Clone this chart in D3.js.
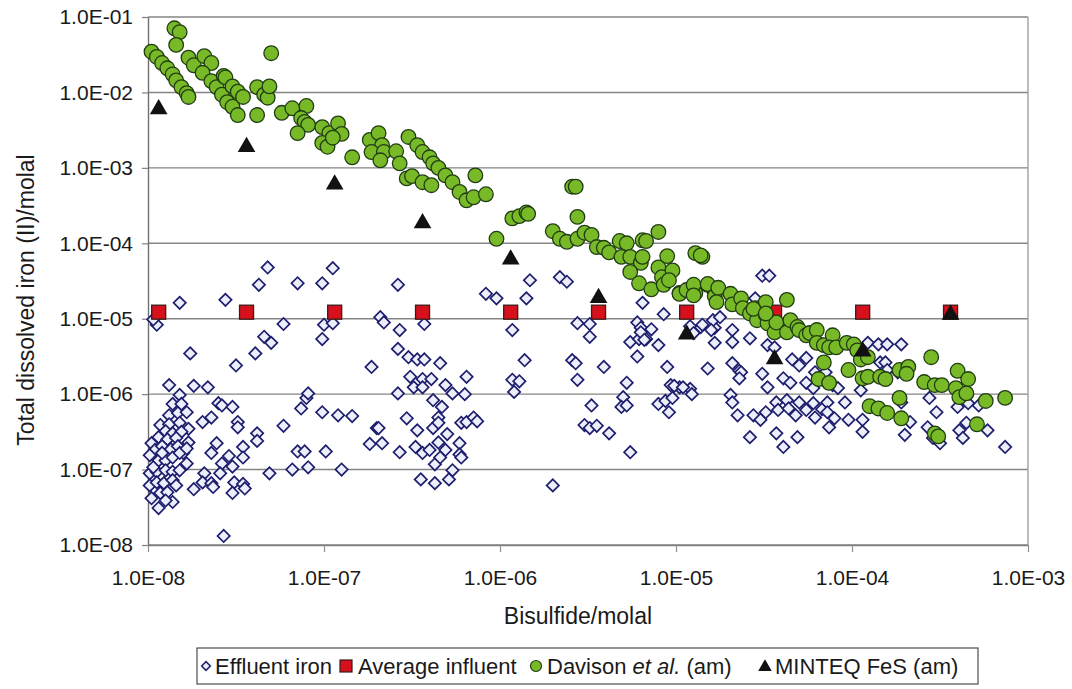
<!DOCTYPE html>
<html>
<head>
<meta charset="utf-8">
<script src="https://cdn.jsdelivr.net/npm/d3@7"></script>
<style>
  body { margin: 0; background: #fff; }
  svg text { font-family: "Liberation Sans", Arial, Helvetica, sans-serif; fill: #1a1a1a; }
</style>
</head>
<body>
<div id="vis"></div>
<script>
// Frame
const FRAME_WIDTH = 1072;
const FRAME_HEIGHT = 689;
const MARGINS = { left: 148, right: 44, top: 17, bottom: 144 };
const VIS_WIDTH = FRAME_WIDTH - MARGINS.left - MARGINS.right;
const VIS_HEIGHT = FRAME_HEIGHT - MARGINS.top - MARGINS.bottom;

// Axis ticks
const xTickValues = [1e-8, 1e-7, 1e-6, 1e-5, 1e-4, 1e-3];
const xTickLabels = ["1.0E-08", "1.0E-07", "1.0E-06", "1.0E-05", "1.0E-04", "1.0E-03"];
const yTickValues = [1e-8, 1e-7, 1e-6, 1e-5, 1e-4, 1e-3, 1e-2, 1e-1];
const yTickLabels = ["1.0E-08", "1.0E-07", "1.0E-06", "1.0E-05", "1.0E-04", "1.0E-03", "1.0E-02", "1.0E-01"];

// Average influent and MINTEQ FeS (am): bisulfide (molal) and iron (molal)
const bisulfideSteps = [1.15e-8, 3.63e-8, 1.15e-7, 3.63e-7, 1.15e-6, 3.63e-6, 1.15e-5, 3.63e-5, 1.15e-4, 3.63e-4];
const influentIron = [1.22e-5, 1.22e-5, 1.22e-5, 1.22e-5, 1.22e-5, 1.22e-5, 1.22e-5, 1.22e-5, 1.22e-5, 1.22e-5];
const minteqIron = [6.2e-3, 1.95e-3, 6.2e-4, 1.9e-4, 6.3e-5, 1.95e-5, 6.4e-6, 3.0e-6, 3.8e-6, 1.17e-5];

// Effluent iron, pairs of [log10 bisulfide, log10 iron]
const effluentLog = [
  [-7.82,-4.79],[-7.56,-4.75],[-7.37,-4.55],[-7.15,-4.53],[-7.01,-4.53],[-7.95,-5.08],[-7.97,-5.01],[-7.23,-5.07],
  [-7.76,-5.46],[-7.50,-5.62],[-7.39,-5.46],[-7.34,-5.24],[-7.30,-5.32],[-7.00,-5.08],[-6.95,-5.06],[-7.01,-5.27],
  [-6.73,-5.64],[-7.88,-5.88],[-7.82,-6.01],[-7.74,-5.89],[-7.66,-5.91],[-7.60,-6.12],[-7.58,-6.15],[-7.52,-6.17],
  [-7.64,-6.31],[-7.69,-6.37],[-7.49,-6.37],[-7.49,-6.44],[-7.23,-6.42],[-7.13,-6.19],[-7.10,-6.05],[-7.09,-5.99],
  [-7.01,-6.24],[-6.92,-6.28],[-6.84,-6.29],[-7.38,-6.52],[-7.38,-6.62],[-7.61,-6.65],[-7.64,-6.78],[-7.58,-6.92],
  [-7.54,-6.82],[-7.46,-6.70],[-7.46,-6.84],[-7.52,-6.96],[-7.15,-6.76],[-7.11,-6.76],[-6.99,-6.76],[-7.18,-7.00],
  [-7.09,-6.97],[-6.90,-7.00],[-7.31,-7.05],[-7.68,-7.05],[-7.69,-7.17],[-7.64,-7.18],[-7.63,-7.23],[-7.59,-7.05],
  [-7.51,-7.17],[-7.46,-7.19],[-7.52,-7.31],[-7.45,-7.25],[-7.74,-7.26],[-7.57,-7.88],[-6.74,-6.66],[-6.70,-6.45],
  [-7.86,-6.13],[-7.81,-6.13],[-7.88,-6.28],[-7.83,-6.25],[-7.78,-6.24],[-7.93,-6.41],[-7.88,-6.40],[-7.82,-6.38],
  [-7.77,-6.46],[-7.90,-6.49],[-7.86,-6.52],[-7.81,-6.50],[-7.98,-6.65],[-7.94,-6.57],[-7.89,-6.60],[-7.84,-6.58],
  [-7.77,-6.64],[-7.96,-6.74],[-7.92,-6.69],[-7.87,-6.73],[-7.83,-6.69],[-7.80,-6.78],[-7.99,-6.81],[-7.94,-6.88],
  [-7.90,-6.88],[-7.86,-6.84],[-7.78,-6.92],[-7.99,-7.05],[-7.95,-7.03],[-7.90,-7.01],[-7.86,-7.03],[-7.82,-7.01],
  [-7.99,-7.21],[-7.95,-7.17],[-7.91,-7.18],[-7.86,-7.14],[-7.84,-7.21],[-7.98,-7.38],[-7.93,-7.31],[-7.89,-7.30],
  [-7.86,-7.43],[-7.94,-7.51],[-7.90,-7.41],[-7.97,-6.97],[-7.92,-6.78],[-7.82,-6.78],[-7.78,-6.72],
  [-7.32,-4.32],[-6.95,-4.33],
  [-6.58,-4.55],[-6.68,-4.98],[-6.66,-5.05],[-6.57,-5.15],[-6.43,-5.07],[-6.58,-5.40],[-6.52,-5.51],[-6.47,-5.54],
  [-6.43,-5.54],[-6.34,-5.59],[-6.51,-5.77],[-6.44,-5.80],[-6.39,-5.80],[-6.49,-5.91],[-6.44,-5.91],[-6.31,-5.88],
  [-6.27,-5.99],[-6.20,-6.00],[-6.19,-5.77],[-6.58,-5.99],[-6.38,-6.08],[-6.33,-6.17],[-6.35,-6.31],[-6.53,-6.32],
  [-6.47,-6.48],[-6.38,-6.45],[-6.35,-6.38],[-6.30,-6.53],[-6.22,-6.38],[-6.19,-6.37],[-6.15,-6.31],[-6.13,-6.36],
  [-6.69,-6.45],[-6.67,-6.65],[-6.57,-6.77],[-6.48,-6.70],[-6.44,-6.78],[-6.40,-6.74],[-6.37,-6.93],[-6.35,-6.64],
  [-6.31,-6.74],[-6.34,-6.84],[-6.23,-6.65],[-6.23,-6.80],[-6.22,-6.84],[-6.27,-7.01],[-6.45,-7.13],[-6.37,-7.18],
  [-6.29,-7.13],[-5.70,-7.21],[-5.93,-5.15],[-5.86,-5.55],[-5.83,-4.49],[-5.85,-4.73],[-6.08,-4.67],[-6.02,-4.73],
  [-5.93,-5.81],[-5.89,-5.83],[-5.92,-5.97],[-5.66,-4.45],[-5.62,-4.51],[-5.56,-5.06],[-5.49,-5.07],[-5.49,-5.24],
  [-5.59,-5.55],[-5.57,-5.59],[-5.41,-5.64],[-5.56,-5.81],[-5.48,-6.15],[-5.28,-5.85],[-5.30,-6.04],[-5.31,-6.17],
  [-5.28,-6.15],[-5.52,-6.41],[-5.49,-6.45],[-5.45,-6.42],[-5.38,-6.52],[-5.26,-6.77],[-5.19,-4.79],[-5.07,-4.94],
  [-5.22,-5.05],[-5.20,-5.12],[-5.14,-5.14],[-5.26,-5.31],[-5.21,-5.27],[-5.17,-5.27],[-5.10,-5.35],[-5.22,-5.50],
  [-5.05,-5.64],[-5.03,-5.88],[-4.98,-5.91],[-4.92,-5.93],[-4.91,-6.00],[-5.10,-6.13],[-5.06,-6.09],[-5.02,-6.05],
  [-5.04,-6.24],[-4.86,-5.11],[-4.78,-5.12],[-4.78,-5.32],[-4.82,-5.66],[-4.79,-5.02],
  [-4.51,-4.43],[-4.47,-4.43],[-5.20,-5.18],[-5.18,-5.28],[-4.92,-5.10],[-4.90,-5.19],[-4.80,-5.15],[-4.75,-4.98],
  [-4.68,-5.15],[-4.58,-5.26],[-4.48,-5.35],[-4.68,-5.59],[-4.64,-5.69],[-4.51,-5.73],[-4.48,-5.91],[-5.01,-5.89],
  [-4.96,-5.91],[-4.69,-6.01],[-4.85,-5.08],[-4.55,-4.73],
  [-4.68,-5.31],[-4.44,-5.38],[-4.63,-5.71],[-4.64,-5.79],[-4.39,-5.79],[-4.35,-5.85],[-4.34,-5.54],[-4.30,-5.62],
  [-4.26,-5.52],[-4.26,-5.85],[-4.21,-5.71],[-4.22,-5.92],[-4.15,-5.71],[-4.11,-5.88],[-4.08,-5.92],[-3.95,-5.95],
  [-3.91,-5.32],[-3.85,-5.34],[-3.80,-5.34],[-3.72,-5.34],[-3.84,-5.58],[-3.81,-5.58],[-3.80,-5.68],[-3.74,-5.71],
  [-4.68,-6.11],[-4.65,-6.28],[-4.56,-6.28],[-4.52,-6.34],[-4.49,-6.24],[-4.43,-6.11],[-4.42,-6.21],[-4.37,-6.08],
  [-4.36,-6.19],[-4.32,-6.28],[-4.30,-6.11],[-4.26,-6.21],[-4.22,-6.12],[-4.21,-6.31],[-4.17,-6.20],[-4.14,-6.11],
  [-4.14,-6.24],[-4.10,-6.32],[-4.13,-6.44],[-4.04,-6.11],[-4.02,-6.34],[-3.94,-6.34],[-3.94,-6.50],[-4.58,-6.57],
  [-4.43,-6.52],[-4.39,-6.70],[-4.31,-6.57],[-3.72,-6.11],[-3.67,-6.37],[-3.70,-6.54],[-3.57,-6.44],[-3.56,-6.05],
  [-3.52,-6.24],[-3.54,-6.58],[-3.50,-6.65],[-3.40,-6.17],[-3.34,-6.12],[-3.28,-6.15],[-3.39,-6.48],[-3.35,-6.38],
  [-3.37,-6.58],[-3.23,-6.48],[-3.13,-6.70]
];

// Davison et al. (am), pairs of [log10 bisulfide, log10 iron]
const davisonLog = [
  [-7.98,-1.46],[-7.95,-1.53],[-7.92,-1.61],[-7.89,-1.68],[-7.86,-1.76],[-7.84,-1.84],[-7.81,-1.93],[-7.78,-2.01],
  [-7.77,-2.06],[-7.85,-1.15],[-7.82,-1.20],[-7.84,-1.37],[-7.77,-1.54],[-7.74,-1.64],[-7.68,-1.52],[-7.64,-1.61],
  [-7.69,-1.74],[-7.64,-1.85],[-7.61,-1.93],[-7.58,-2.03],[-7.55,-2.13],[-7.52,-2.19],[-7.49,-2.30],[-7.57,-1.78],
  [-7.56,-1.80],[-7.52,-1.92],[-7.49,-1.99],[-7.46,-2.06],[-7.38,-1.93],[-7.38,-2.30],[-7.34,-2.03],[-7.32,-2.07],
  [-7.31,-1.92],[-7.30,-1.48],[-7.24,-2.27],[-7.18,-2.21],[-7.10,-2.18],[-7.13,-2.34],[-7.11,-2.39],[-7.09,-2.43],
  [-7.15,-2.54],[-7.01,-2.46],[-6.97,-2.54],[-6.92,-2.41],[-6.90,-2.55],[-7.01,-2.67],[-6.98,-2.72],[-6.95,-2.60],
  [-6.84,-2.86],[-6.74,-2.63],[-6.69,-2.54],[-6.67,-2.70],[-6.73,-2.79],[-6.66,-2.79],[-6.68,-2.90],[-6.59,-2.78],
  [-6.57,-2.94],[-6.53,-3.14],[-6.50,-3.11],[-6.52,-2.59],[-6.47,-2.70],[-6.44,-2.79],[-6.40,-2.86],[-6.38,-2.94],
  [-6.35,-3.00],[-6.31,-3.10],[-6.27,-3.19],[-6.23,-3.32],[-6.19,-3.43],[-6.15,-3.39],[-6.44,-3.19],[-6.39,-3.23],
  [-6.14,-3.10],[-6.08,-3.35],[-6.02,-3.94],[-5.93,-3.67],[-5.89,-3.64],[-5.85,-3.59],[-5.84,-3.61],[-5.59,-3.25],
  [-5.57,-3.25],[-5.56,-3.65],[-5.70,-3.84],[-5.66,-3.94],[-5.62,-3.98],[-5.56,-3.94],[-5.52,-3.86],[-5.48,-3.89],
  [-5.45,-4.05],[-5.41,-4.06],[-5.38,-4.12],[-5.32,-3.97],[-5.28,-4.00],[-5.19,-3.96],[-5.17,-3.97],[-5.10,-3.85],
  [-5.31,-4.18],[-5.26,-4.18],[-5.20,-4.26],[-5.19,-4.18],[-5.26,-4.38],[-5.21,-4.53],[-5.14,-4.61],[-5.10,-4.32],
  [-5.05,-4.17],[-5.08,-4.45],[-5.07,-4.55],[-5.02,-4.36],[-5.04,-4.49],[-4.98,-4.66],[-4.93,-4.62],[-4.89,-4.66],
  [-4.89,-4.13],[-4.85,-4.18],[-4.82,-4.55],[-4.78,-4.66],[-4.98,-4.67],[-4.94,-4.62],[-4.90,-4.55],[-4.90,-4.69],
  [-4.82,-4.54],[-4.78,-4.70],[-4.76,-4.59],[-4.77,-4.78],[-4.69,-4.67],[-4.68,-4.81],[-4.63,-4.73],[-4.62,-4.86],
  [-4.58,-4.93],[-4.55,-4.86],[-4.54,-5.02],[-4.49,-4.78],[-4.49,-4.95],[-4.48,-5.06],[-4.44,-5.18],[-4.43,-5.05],
  [-4.86,-4.16],[-4.56,-4.87],[-4.49,-4.93],[-4.37,-4.75],[-4.37,-5.18],[-4.35,-5.02],[-4.31,-5.11],[-4.30,-5.15],
  [-4.26,-5.22],[-4.24,-5.19],[-4.20,-5.15],[-4.20,-5.32],[-4.16,-5.35],[-4.16,-5.58],[-4.11,-5.22],[-4.13,-5.38],
  [-4.09,-5.38],[-4.03,-5.32],[-3.99,-5.34],[-3.97,-5.42],[-3.95,-5.54],[-3.91,-5.51],[-4.02,-5.68],[-3.94,-5.79],
  [-3.91,-5.77],[-4.19,-5.80],[-4.13,-5.85],[-3.84,-5.77],[-3.81,-5.80],[-3.90,-6.16],[-3.85,-6.19],[-3.80,-6.25],
  [-3.73,-6.05],[-3.72,-6.32],[-3.73,-5.68],[-3.68,-5.64],[-3.69,-5.73],[-3.55,-5.51],[-3.59,-5.84],[-3.53,-5.88],
  [-3.49,-5.88],[-3.53,-6.52],[-3.51,-6.56],[-3.41,-5.92],[-3.40,-5.69],[-3.34,-5.80],[-3.39,-6.04],[-3.35,-5.99],
  [-3.29,-6.40],[-3.24,-6.09],[-3.13,-6.05]
];

// Legend entries
const legendNames = ["Effluent iron", "Average influent", "Davison", "MINTEQ FeS (am)"];

const effluent = effluentLog.map(d => ({ x: Math.pow(10, d[0]), y: Math.pow(10, d[1]) }));
const davison = davisonLog.map(d => ({ x: Math.pow(10, d[0]), y: Math.pow(10, d[1]) }));
const influent = bisulfideSteps.map((x, i) => ({ x: x, y: influentIron[i] }));
const minteq = bisulfideSteps.map((x, i) => ({ x: x, y: minteqIron[i] }));

const FRAME = d3.select("#vis")
    .append("svg")
    .attr("width", FRAME_WIDTH)
    .attr("height", FRAME_HEIGHT);

const X_SCALE = d3.scaleLog().domain([1e-8, 1e-3]).range([0, VIS_WIDTH]);
const Y_SCALE = d3.scaleLog().domain([1e-8, 1e-1]).range([VIS_HEIGHT, 0]);

const PLOT = FRAME.append("g")
    .attr("transform", "translate(" + MARGINS.left + "," + MARGINS.top + ")");

// gridlines
PLOT.selectAll(".grid")
    .data(yTickValues)
    .enter()
    .append("line")
    .attr("x1", 0)
    .attr("x2", VIS_WIDTH)
    .attr("y1", d => Y_SCALE(d))
    .attr("y2", d => Y_SCALE(d))
    .attr("stroke", "#858585")
    .attr("stroke-width", 1.4);

// right border of plot area
PLOT.append("line")
    .attr("x1", VIS_WIDTH).attr("x2", VIS_WIDTH)
    .attr("y1", 0).attr("y2", VIS_HEIGHT)
    .attr("stroke", "#a0a0a0")
    .attr("stroke-width", 1.4);

// X axis
const xAxis = PLOT.append("g")
    .attr("transform", "translate(0," + VIS_HEIGHT + ")")
    .call(d3.axisBottom(X_SCALE)
        .tickValues(xTickValues)
        .tickFormat((d, i) => xTickLabels[i])
        .tickSizeInner(7).tickSizeOuter(0)
        .tickPadding(18));
xAxis.select(".domain").attr("stroke", "#808080").attr("stroke-width", 1.4);
xAxis.selectAll(".tick line").attr("stroke", "#909090").attr("stroke-width", 1.2);
xAxis.selectAll("text").attr("font-size", "21px").attr("fill", "#1a1a1a");

// Y axis
const yAxis = PLOT.append("g")
    .call(d3.axisLeft(Y_SCALE)
        .tickValues(yTickValues)
        .tickFormat((d, i) => yTickLabels[i])
        .tickSizeInner(6).tickSizeOuter(0)
        .tickPadding(9));
yAxis.select(".domain").attr("stroke", "#707070").attr("stroke-width", 1.4);
yAxis.selectAll(".tick line").attr("stroke", "#808080").attr("stroke-width", 1.2);
yAxis.selectAll("text").attr("font-size", "21px").attr("fill", "#1a1a1a");

// axis titles
FRAME.append("text")
    .attr("x", MARGINS.left + VIS_WIDTH / 2 - 10)
    .attr("y", 624)
    .attr("text-anchor", "middle")
    .attr("font-size", "23px")
    .text("Bisulfide/molal");

FRAME.append("text")
    .attr("transform", "translate(34," + (MARGINS.top + 283) + ") rotate(-90)")
    .attr("text-anchor", "middle")
    .attr("font-size", "23px")
    .text("Total dissolved iron (II)/molal");

// Effluent iron (diamonds)
const diamond = d3.symbol().type(d3.symbolSquare).size(76);
PLOT.selectAll(".eff")
    .data(effluent)
    .enter()
    .append("path")
    .attr("d", diamond)
    .attr("transform", d => "translate(" + X_SCALE(d.x) + "," + Y_SCALE(d.y) + ") rotate(45)")
    .attr("fill", "#eceefa")
    .attr("stroke", "#1e1e6e")
    .attr("stroke-width", 1.7);

// Average influent (squares)
PLOT.selectAll(".inf")
    .data(influent)
    .enter()
    .append("rect")
    .attr("x", d => X_SCALE(d.x) - 7)
    .attr("y", d => Y_SCALE(d.y) - 7)
    .attr("width", 14)
    .attr("height", 14)
    .attr("fill", "#d7101e")
    .attr("stroke", "#3a1a18")
    .attr("stroke-width", 1.3);

// Davison et al. (circles)
PLOT.selectAll(".dav")
    .data(davison)
    .enter()
    .append("circle")
    .attr("cx", d => X_SCALE(d.x))
    .attr("cy", d => Y_SCALE(d.y))
    .attr("r", 7.3)
    .attr("fill", "#78b928")
    .attr("stroke", "#203d12")
    .attr("stroke-width", 1.3);

// MINTEQ FeS (triangles)
const triangle = d3.symbol().type(d3.symbolTriangle).size(135);
PLOT.selectAll(".min")
    .data(minteq)
    .enter()
    .append("path")
    .attr("d", triangle)
    .attr("transform", d => "translate(" + X_SCALE(d.x) + "," + (Y_SCALE(d.y) + 1) + ")")
    .attr("fill", "#111");

// Legend
const LEG = FRAME.append("g");
LEG.append("rect")
    .attr("x", 197).attr("y", 648)
    .attr("width", 781).attr("height", 36)
    .attr("fill", "#fff")
    .attr("stroke", "#4d4d4d")
    .attr("stroke-width", 1.2);

const legY = 666;
LEG.append("path")
    .attr("d", d3.symbol().type(d3.symbolSquare).size(38))
    .attr("transform", "translate(206," + legY + ") rotate(45)")
    .attr("fill", "#eceefa").attr("stroke", "#1e1e6e").attr("stroke-width", 1.5);
LEG.append("text").attr("x", 215).attr("y", legY + 8).attr("font-size", "22px").text(legendNames[0]);

LEG.append("rect")
    .attr("x", 340).attr("y", legY - 6).attr("width", 12).attr("height", 12)
    .attr("fill", "#d7101e").attr("stroke", "#3a1a18").attr("stroke-width", 1.2);
LEG.append("text").attr("x", 358).attr("y", legY + 8).attr("font-size", "22px").text(legendNames[1]);

LEG.append("circle")
    .attr("cx", 536).attr("cy", legY).attr("r", 5.5)
    .attr("fill", "#78b928").attr("stroke", "#203d12").attr("stroke-width", 1.2);
const dav = LEG.append("text").attr("x", 547).attr("y", legY + 8).attr("font-size", "22px");
dav.append("tspan").text(legendNames[2] + " ");
dav.append("tspan").attr("font-style", "italic").text("et al.");
dav.append("tspan").text(" (am)");

LEG.append("path")
    .attr("d", d3.symbol().type(d3.symbolTriangle).size(80))
    .attr("transform", "translate(765," + (legY + 1) + ")")
    .attr("fill", "#111");
LEG.append("text").attr("x", 775).attr("y", legY + 8).attr("font-size", "22px").text(legendNames[3]);
</script>
</body>
</html>
